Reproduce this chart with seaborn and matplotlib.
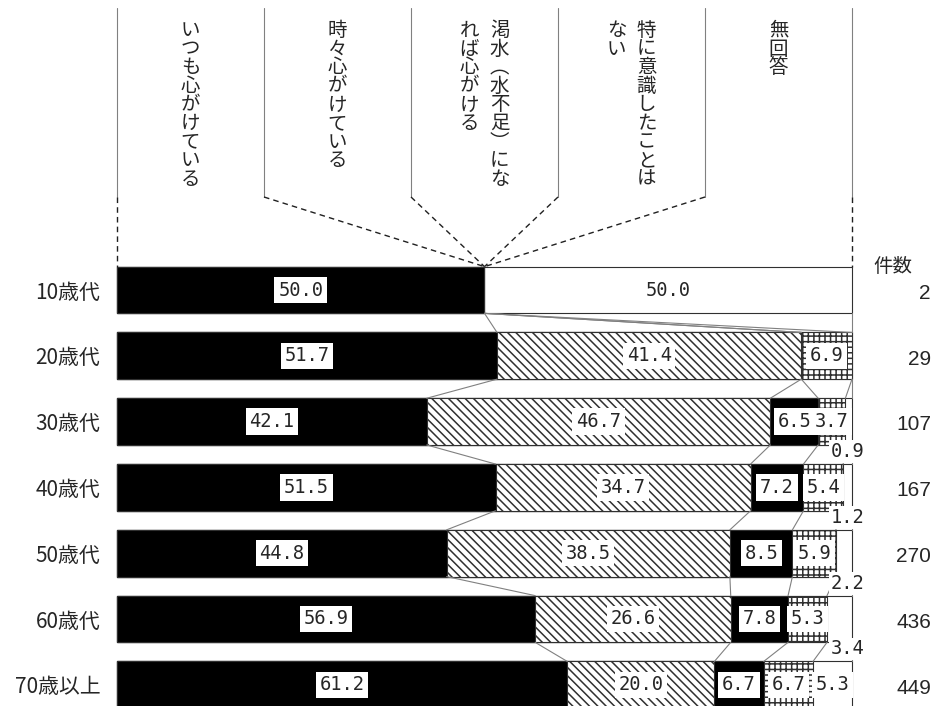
import matplotlib
matplotlib.use("Agg")
import matplotlib.pyplot as plt
import seaborn as sns
import numpy as np
import pandas as pd

# ---------------- data ----------------
ages = ["10歳代", "20歳代", "30歳代", "40歳代", "50歳代", "60歳代", "70歳以上"]
categories = ["いつも心がけている", "時々心がけている", "渇水（水不足）になれば心がける",
              "特に意識したことはない", "無回答"]
always = [50.0, 51.7, 42.1, 51.5, 44.8, 56.9, 61.2]
sometimes = [0.0, 41.4, 46.7, 34.7, 38.5, 26.6, 20.0]
drought = [0.0, 0.0, 6.5, 7.2, 8.5, 7.8, 6.7]
never = [0.0, 6.9, 3.7, 5.4, 5.9, 5.3, 6.7]
no_answer = [50.0, 0.0, 0.9, 1.2, 2.2, 3.4, 5.3]
counts = [2, 29, 107, 167, 270, 436, 449]
count_title = "件数"
# vertical header columns (right column first, as in vertical writing)
header_cols = [["いつも心がけている"], ["時々心がけている"],
               ["渇水︵水不足︶にな", "れば心がける"],
               ["特に意識したことは", "ない"], ["無回答"]]

series = [always, sometimes, drought, never, no_answer]

# ---------------- styles ----------------
sns.set_theme(style="white")
plt.rcParams["font.family"] = ["Noto Sans CJK JP", "DejaVu Sans"]
plt.rcParams["hatch.color"] = "black"
plt.rcParams["hatch.linewidth"] = 1.1

W, H = 937, 706
X0, X1 = 117, 852
ROW0, ROWSTEP = 290, 65.8


def px2x(p):
    return (p - X0) / (X1 - X0) * 100.0


def px2y(p):
    return (p - ROW0) / ROWSTEP


fig = plt.figure(figsize=(W / 100, H / 100), dpi=100)
ax = fig.add_axes([X0 / W, 0, (X1 - X0) / W, 1])

vals = np.array(series, dtype=float)  # (5, 7)
totals = vals.sum(axis=0)
cum = np.cumsum(vals, axis=0) / totals * 100.0  # right edges normalised
cum_full = np.vstack([np.zeros(len(ages)), cum])  # (6, 7) boundaries

fills = ["black", "white", "black", "white", "white"]
hatches = [None, "\\\\\\\\", None, "+++", None]
BAR_W = 0.71

for k in range(4, -1, -1):
    df = pd.DataFrame({"age": ages, "right": cum[k]})
    kw = {}
    if hatches[k]:
        kw["hatch"] = hatches[k]
    sns.barplot(data=df, x="right", y="age", orient="h", color=fills[k],
                saturation=1, edgecolor="#303030", linewidth=0.8,
                width=BAR_W, errorbar=None, ax=ax, **kw)
for p in ax.patches:
    p.set_clip_on(False)

# connector lines between adjacent bars
for i in range(len(ages) - 1):
    for k in range(1, 6):
        ax.plot([cum_full[k, i], cum_full[k, i + 1]],
                [i + BAR_W / 2, i + 1 - BAR_W / 2],
                color="#808080", lw=0.8, zorder=1, clip_on=False)

# value labels
lab_font = dict(family=["DejaVu Sans Mono"], fontsize=13.5)
for i in range(len(ages)):
    for k in range(5):
        v = vals[k, i]
        if v <= 0:
            continue
        xc = (cum_full[k, i] + cum_full[k + 1, i]) / 2
        if k == 4 and v < 5 and i > 0:
            ax.text(99.4, i + BAR_W / 2 + 0.1, f"{v:.1f}", ha="center", va="center",
                    bbox=dict(boxstyle="square,pad=0.1", fc="white", ec="none"),
                    zorder=6, **lab_font)
        else:
            ax.text(xc, i, f"{v:.1f}", ha="center", va="center",
                    bbox=dict(boxstyle="square,pad=0.2", fc="white", ec="none"),
                    zorder=6, **lab_font)

# header: dividers and dashed guides
top_bar = -BAR_W / 2
for j in range(6):
    xd = j * 20
    ax.plot([xd, xd], [px2y(8), px2y(197)], color="#808080", lw=0.8, clip_on=False)
    ax.plot([xd, cum_full[j, 0]], [px2y(197), top_bar], color="#202020", lw=1.0,
            ls=(0, (4, 3)), clip_on=False)

# header: vertical text (one multi-line text per column)
for c, cols in enumerate(header_cols):
    n = len(cols)
    centre_px = X0 + (c + 0.5) * (X1 - X0) / 5
    for m, col in enumerate(cols):
        xpx = centre_px + (n - 1) * 15 - m * 30
        ax.text(px2x(xpx), px2y(20), "\n".join(col), ha="center", va="top",
                multialignment="center", fontsize=14, linespacing=0.85,
                clip_on=False)

# right side counts
ax.text(px2x(893), px2y(267), count_title, ha="center", va="center", fontsize=14,
        clip_on=False)
for i, n in enumerate(counts):
    ax.text(px2x(931), i + 0.05, str(n), ha="right", va="center", fontsize=15,
            family=["Liberation Sans Narrow", "Liberation Sans"], clip_on=False)

ax.set_xlim(0, 100)
ax.set_ylim(px2y(H), px2y(0))
ax.set_xticks([])
ax.set_xlabel("")
ax.set_ylabel("")
ax.tick_params(axis="y", length=0, pad=12, labelsize=15)
for s in ax.spines.values():
    s.set_visible(False)
ax.patch.set_alpha(0)

fig.savefig("out.png", dpi=100, facecolor="white")
